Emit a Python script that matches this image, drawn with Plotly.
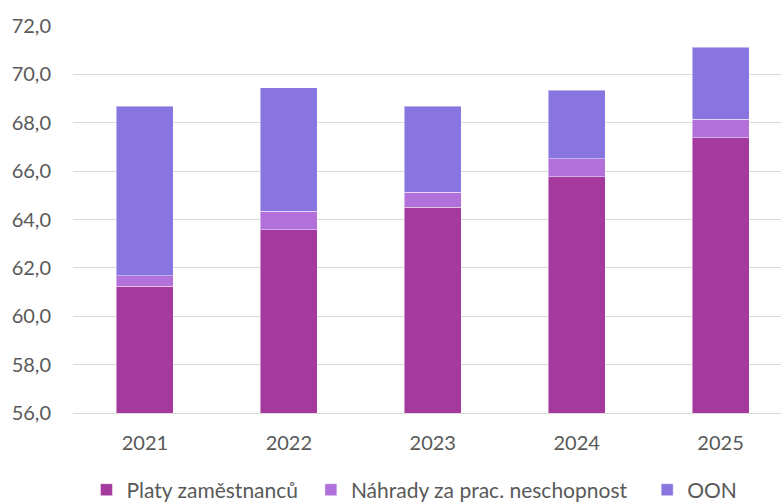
import plotly.graph_objects as go

years = ["2021", "2022", "2023", "2024", "2025"]
platy = [61.25, 63.57, 64.51, 65.76, 67.38]
nahrady = [0.43, 0.77, 0.62, 0.76, 0.76]
oon = [7.00, 5.11, 3.55, 2.82, 2.99]

series = [
    ("Platy zaměstnanců", platy, "#A43A9D", "legend", 0.019),
    ("Náhrady za prac. neschopnost", nahrady, "#B170DA", "legend2", 0.336),
    ("OON", oon, "#8975DF", "legend3", 0.811),
]

fig = go.Figure()
for name, vals, col, lg, _ in series:
    fig.add_trace(go.Bar(
        x=years, y=vals, name=name, width=0.396, legend=lg,
        marker=dict(color=col, line=dict(color="rgba(255,255,255,0.45)", width=1)),
    ))

font_fam = "Lato"
leg_common = dict(orientation="h", xanchor="left", y=-0.199, yanchor="middle",
                  font=dict(size=21, color="#595959"), itemwidth=30,
                  bgcolor="rgba(0,0,0,0)", tracegroupgap=0)
legends = {}
for name, vals, col, lg, lx in series:
    legends[lg] = dict(leg_common, x=lx)

fig.update_layout(
    barmode="stack",
    width=781, height=503,
    margin=dict(l=73, r=0, t=26, b=90, autoexpand=False),
    paper_bgcolor="white", plot_bgcolor="white",
    separators=",.",
    font=dict(family=font_fam, size=18, color="#595959"),
    showlegend=True,
    xaxis=dict(type="category", range=[-0.5, 4.42], showgrid=False,
               showline=True, linecolor="#D9D9D9", linewidth=1.3,
               ticks="", ticklabelstandoff=12, tickfont=dict(size=20, color="#595959")),
    yaxis=dict(range=[56, 72], dtick=2, tick0=56, tickformat=".1f",
               showgrid=True, gridcolor="#D9D9D9", gridwidth=1.3,
               zeroline=False, showline=False, ticks="",
               ticklabelstandoff=21, tickfont=dict(size=20, color="#595959")),
    **legends,
)

fig.write_html("out.html", config={"displayModeBar": False},
               post_script="document.body.style.margin='0';document.body.style.overflow='hidden';")
